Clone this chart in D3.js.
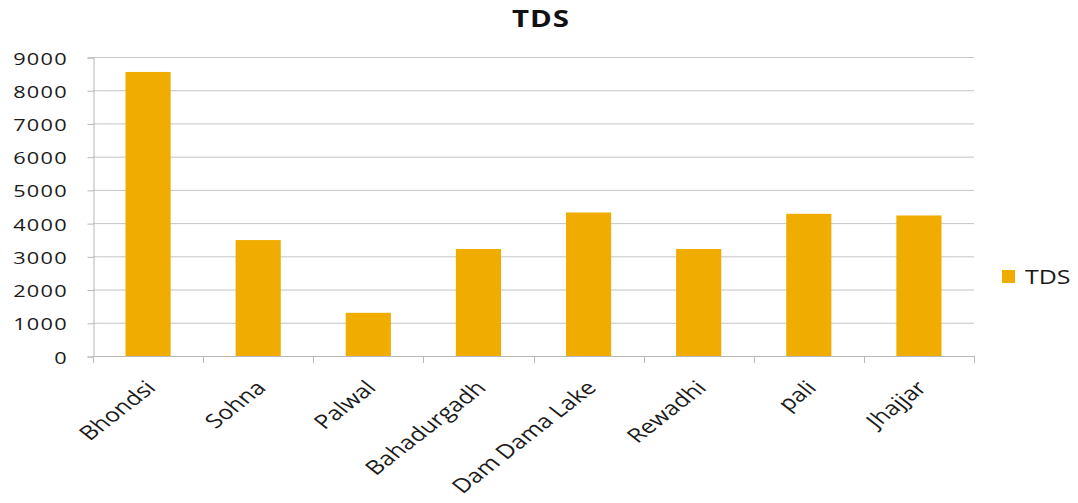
<!DOCTYPE html>
<html>
<head>
<meta charset="utf-8">
<script src="https://cdn.jsdelivr.net/npm/d3@7"></script>
<style>
  html, body { margin: 0; padding: 0; background: #fff; }
  svg { display: block; font-family: "Open Sans", "DejaVu Sans", sans-serif; }
</style>
</head>
<body>
<svg id="chart" width="1078" height="503"></svg>
<script>
// Total dissolved solids by sampling site
const sites = ["Bhondsi", "Sohna", "Palwal", "Bahadurgadh", "Dam Dama Lake", "Rewadhi", "pali", "Jhajjar"];
const tdsValues = [8550, 3490, 1300, 3220, 4320, 3220, 4280, 4230];
const yTicks = [0, 1000, 2000, 3000, 4000, 5000, 6000, 7000, 8000, 9000];
const seriesName = "TDS";

const svg = d3.select("#chart");
const margin = { left: 93, right: 104, top: 57, bottom: 147 };
const W = 1078, H = 503;
const axisColor = "#b8b8b8";
const textColor = "#1a1a1a";
const stretch = 1.28; // wide lettering: glyphs are drawn horizontally widened

const x = d3.scaleBand()
  .domain(sites)
  .range([margin.left, W - margin.right])
  .paddingInner(0.59)
  .paddingOuter(0.295);

const y = d3.scaleLinear()
  .domain([0, 9000])
  .range([H - margin.bottom, margin.top]);

// Horizontal gridlines
svg.append("g")
  .selectAll("line")
  .data(yTicks)
  .join("line")
  .attr("x1", margin.left)
  .attr("x2", W - margin.right)
  .attr("y1", d => y(d) + 0.5)
  .attr("y2", d => y(d) + 0.5)
  .attr("stroke", "#c4c4c4")
  .attr("stroke-width", 1);

// Y axis (line and tick marks from d3.axisLeft, labels placed separately)
const yAxis = svg.append("g")
  .attr("transform", `translate(${margin.left + 0.5},0.5)`)
  .call(d3.axisLeft(y).tickValues(yTicks).tickSize(6).tickFormat(""));
yAxis.select(".domain").attr("stroke", axisColor);
yAxis.selectAll(".tick line").attr("stroke", axisColor);

svg.append("g")
  .selectAll("text")
  .data(yTicks)
  .join("text")
  .attr("transform", d => `translate(68,${y(d) + 1}) scale(${stretch},1)`)
  .attr("text-anchor", "end")
  .attr("dominant-baseline", "central")
  .attr("font-size", 17)
  .attr("letter-spacing", 1)
  .attr("fill", textColor)
  .text(d => d3.format("d")(d));

// Bars
svg.append("g")
  .selectAll("rect")
  .data(tdsValues)
  .join("rect")
  .attr("x", (d, i) => x(sites[i]))
  .attr("width", x.bandwidth())
  .attr("y", d => y(d))
  .attr("height", d => y(0) - y(d))
  .attr("fill", "#f0ad00");

// X axis with category boundary ticks
const bandStep = x.step();
const boundaries = d3.range(sites.length + 1).map(i => margin.left + i * bandStep);
const xg = svg.append("g");
xg.append("line")
  .attr("x1", margin.left).attr("x2", W - margin.right)
  .attr("y1", y(0) + 0.5).attr("y2", y(0) + 0.5)
  .attr("stroke", axisColor);
xg.selectAll("line.tk")
  .data(boundaries)
  .join("line")
  .attr("class", "tk")
  .attr("x1", d => Math.round(d) + 0.5).attr("x2", d => Math.round(d) + 0.5)
  .attr("y1", y(0)).attr("y2", y(0) + 7)
  .attr("stroke", axisColor);

xg.selectAll("text")
  .data(sites)
  .join("text")
  .attr("transform", d => `translate(${x(d) + x.bandwidth() / 2 + 9},${y(0) + 33}) scale(${stretch},1) rotate(-45)`)
  .attr("text-anchor", "end")
  .attr("font-size", 19.5)
  .attr("fill", textColor)
  .text(d => d);

// Title
svg.append("text")
  .attr("transform", `translate(541,27) scale(${stretch},1)`)
  .attr("text-anchor", "middle")
  .attr("font-size", 23)
  .attr("font-weight", "bold")
  .attr("letter-spacing", 0.8)
  .attr("fill", "#111")
  .text(seriesName);

// Legend
const legend = svg.append("g").attr("transform", "translate(1002,270)");
legend.append("rect").attr("width", 13).attr("height", 13).attr("fill", "#f0ad00");
legend.append("text")
  .attr("transform", `translate(23,13.5) scale(${stretch},1)`)
  .attr("font-size", 19.5)
  .attr("fill", textColor)
  .text(seriesName);
</script>
</body>
</html>
